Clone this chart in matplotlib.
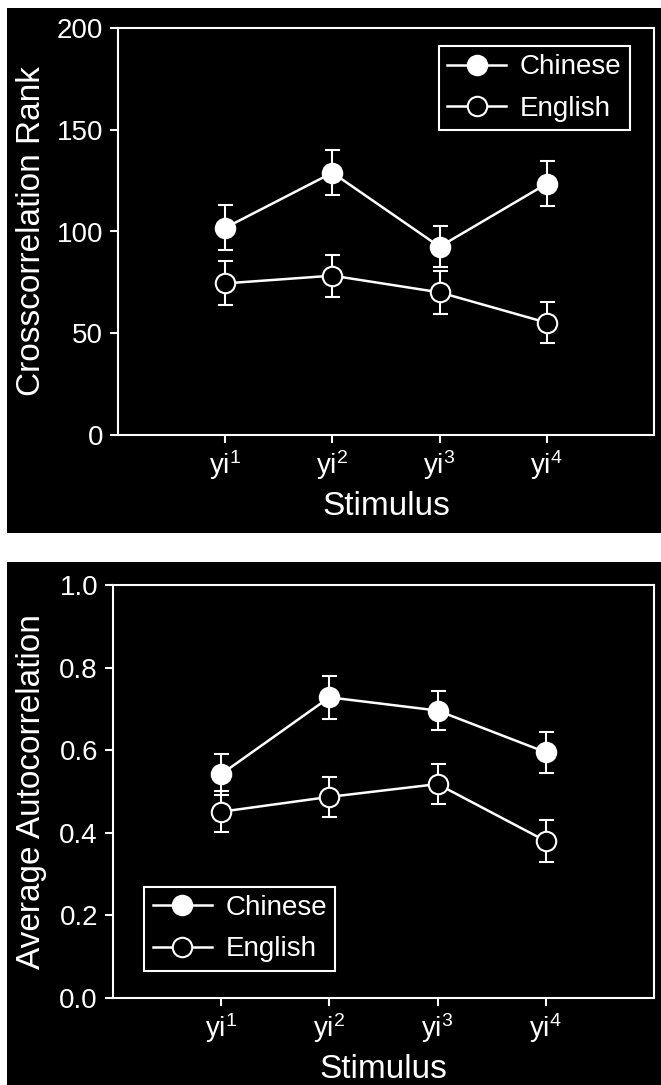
import matplotlib
matplotlib.use("Agg")
import matplotlib.pyplot as plt
from matplotlib.patches import Rectangle

plt.rcParams['font.family'] = ['Liberation Sans', 'DejaVu Sans']
plt.rcParams['mathtext.fontset'] = 'custom'
plt.rcParams['mathtext.rm'] = 'Liberation Sans'
plt.rcParams['mathtext.default'] = 'regular'

# ---- data ----
stimuli = ['yi$^1$', 'yi$^2$', 'yi$^3$', 'yi$^4$']
x_pos = [1, 2, 3, 4]

cross_chinese = [101.8, 128.9, 92.5, 123.5]
cross_chinese_err = [11.0, 11.2, 10.0, 11.2]
cross_english = [74.5, 78.3, 70.1, 55.2]
cross_english_err = [10.8, 10.3, 10.5, 10.1]

auto_chinese = [0.542, 0.728, 0.696, 0.595]
auto_chinese_err = [0.050, 0.052, 0.047, 0.050]
auto_english = [0.451, 0.487, 0.518, 0.380]
auto_english_err = [0.050, 0.049, 0.049, 0.050]

FG = 'white'

fig = plt.figure(figsize=(6.61, 10.85), dpi=100, facecolor='white')
# black panel backgrounds
fig.patches.append(Rectangle((7/661, 1-533/1085), 1-7/661, (533-8)/1085,
                             transform=fig.transFigure, facecolor='black',
                             edgecolor='none', zorder=-5))
fig.patches.append(Rectangle((7/661, 0), 1-7/661, 1-562/1085,
                             transform=fig.transFigure, facecolor='black',
                             edgecolor='none', zorder=-5))

ax1 = fig.add_axes([118/661, 1-435/1085, 536/661, 407/1085])
ax2 = fig.add_axes([113/661, 1-998/1085, 541/661, 413/1085])
ax1.set_zorder(1)
ax2.set_zorder(1)


def style(ax, ylim, yticks, yticklabels, ylabel, ylabel_x):
    ax.set_facecolor('black')
    for s in ax.spines.values():
        s.set_color(FG)
        s.set_linewidth(1.5)
    ax.set_xlim(0, 5)
    ax.set_ylim(*ylim)
    ax.set_xticks(x_pos)
    ax.set_xticklabels(stimuli)
    ax.set_yticks(yticks)
    ax.set_yticklabels(yticklabels)
    ax.tick_params(direction='out', length=5.8, width=1.5, color=FG,
                   labelcolor=FG, labelsize=20)
    ax.tick_params(axis='y', pad=5)
    ax.tick_params(axis='x', pad=4)
    ax.set_ylabel(ylabel, color=FG, fontsize=24)
    ax.yaxis.set_label_coords(ylabel_x, 0.5)
    ax.set_xlabel('Stimulus', color=FG, fontsize=24, labelpad=6)


def draw(ax, ch, che, en, ene):
    kw = dict(fmt='none', ecolor=FG, elinewidth=1.5, capsize=5.4, capthick=1.5, zorder=2)
    ax.errorbar(x_pos, ch, yerr=che, **kw)
    ax.errorbar(x_pos, en, yerr=ene, **kw)
    l1, = ax.plot(x_pos, ch, '-o', color=FG, lw=1.8, ms=14, mfc=FG, mec=FG,
                  mew=1.5, zorder=3, label='Chinese')
    l2, = ax.plot(x_pos, en, '-o', color=FG, lw=1.8, ms=14, mfc='black', mec=FG,
                  mew=1.5, zorder=3, label='English')
    return l1, l2


LEG = dict(borderaxespad=0, fontsize=20, frameon=True, fancybox=False,
           facecolor='black', edgecolor=FG, labelcolor=FG, framealpha=1,
           handlelength=2.12, handletextpad=0.5, borderpad=0.3,
           labelspacing=0.55, markerscale=1.0)

style(ax1, (0, 200), [0, 50, 100, 150, 200], ['0', '50', '100', '150', '200'],
      'Crosscorrelation Rank', -0.1325)
h = draw(ax1, cross_chinese, cross_chinese_err, cross_english, cross_english_err)
leg = ax1.legend(handles=h, loc='upper right', bbox_to_anchor=(0.955, 0.956), **LEG)
leg.get_frame().set_linewidth(1.5)

style(ax2, (0, 1.0), [0, 0.2, 0.4, 0.6, 0.8, 1.0],
      ['0.0', '0.2', '0.4', '0.6', '0.8', '1.0'],
      'Average Autocorrelation', -0.1225)
h = draw(ax2, auto_chinese, auto_chinese_err, auto_english, auto_english_err)
leg = ax2.legend(handles=h, loc='lower left', bbox_to_anchor=(0.058, 0.066), **LEG)
leg.get_frame().set_linewidth(1.5)

fig.savefig('out.png', dpi=100, facecolor='white')
